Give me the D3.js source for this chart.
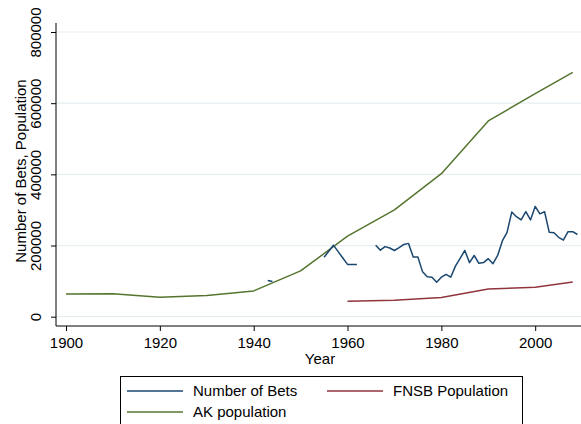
<!DOCTYPE html>
<html>
<head>
<meta charset="utf-8">
<script src="https://cdn.jsdelivr.net/npm/d3@7"></script>
<style>
  body { margin: 0; background: #fff; }
  text { font-family: "Liberation Sans", Arial, Helvetica, sans-serif; fill: #000; }
</style>
</head>
<body>
<script>
// Number of Bets by year (null = missing year, line breaks there)
const betYears = [1943, 1944, 1945,
    1955, 1956, 1957, 1958, 1959, 1960, 1961, 1962, 1963,
    1966, 1967, 1968, 1969, 1970, 1971, 1972, 1973, 1974, 1975,
    1976, 1977, 1978, 1979, 1980, 1981, 1982, 1983, 1984, 1985,
    1986, 1987, 1988, 1989, 1990, 1991, 1992, 1993, 1994, 1995,
    1996, 1997, 1998, 1999, 2000, 2001, 2002, 2003, 2004, 2005,
    2006, 2007, 2008, 2009];
const betValues = [102000, 99000, null,
    167000, 184000, 201000, 183000, 165000, 147000, 147000, 147000, null,
    201000, 187000, 197000, 193000, 186000, 194000, 203000, 206000, 168000, 168000,
    126000, 112000, 111000, 97000, 111000, 119000, 111000, 142000, 164000, 186000,
    152000, 172000, 150000, 152000, 163000, 149000, 172000, 213000, 237000, 294000,
    281000, 272000, 295000, 272000, 310000, 289000, 295000, 237000, 236000, 223000,
    215000, 239000, 239000, 231000];

// FNSB population
const fnsbYears = [1960, 1970, 1980, 1990, 2000, 2008];
const fnsbValues = [43400, 45900, 54000, 77700, 82800, 97500];

// AK population
const akYears = [1900, 1910, 1920, 1930, 1940, 1950, 1960, 1970, 1980, 1990, 2000, 2008];
const akValues = [63600, 64400, 55000, 59300, 72500, 128600, 226200, 300400, 401900, 550000, 626900, 686300];

const xTicks = [1900, 1920, 1940, 1960, 1980, 2000];
const yTicks = [0, 200000, 400000, 600000, 800000];

const legendItems = [
    { label: 'Number of Bets', color: '#1a476f' },
    { label: 'FNSB Population', color: '#90353b' },
    { label: 'AK population', color: '#55752f' }
];

const width = 581, height = 424;
const plot = { left: 56, right: 581, top: 23, bottom: 326 };

const svg = d3.select('body')
    .append('svg')
    .attr('width', width)
    .attr('height', height);

const x = d3.scaleLinear().domain([1900, 2000]).range([66, 535.2]);
const y = d3.scaleLinear().domain([0, 800000]).range([316.7, 32]);

// Grid lines
svg.append('g')
    .selectAll('line')
    .data(yTicks)
    .enter()
    .append('line')
    .attr('x1', plot.left)
    .attr('x2', plot.right)
    .attr('y1', d => y(d))
    .attr('y2', d => y(d))
    .attr('stroke', '#e6eef1')
    .attr('stroke-width', 1.2);

// Y axis
const yAxis = svg.append('g')
    .attr('transform', `translate(${plot.left},0)`)
    .call(d3.axisLeft(y).tickValues(yTicks).tickSize(5).tickFormat(d3.format('d')));
yAxis.select('.domain').remove();
yAxis.append('line')
    .attr('y1', plot.top).attr('y2', plot.bottom)
    .attr('stroke', '#000');
yAxis.selectAll('.tick line').attr('stroke', '#000');
yAxis.selectAll('.tick text')
    .attr('x', null).attr('dy', null)
    .attr('transform', 'translate(-15.5,0) rotate(-90)')
    .attr('text-anchor', 'middle')
    .style('font-size', '15px');

// X axis
const xAxis = svg.append('g')
    .attr('transform', `translate(0,${plot.bottom})`)
    .call(d3.axisBottom(x).tickValues(xTicks).tickSize(5).tickFormat(d3.format('d')));
xAxis.select('.domain').remove();
xAxis.append('line')
    .attr('x1', plot.left).attr('x2', plot.right)
    .attr('stroke', '#000');
xAxis.selectAll('.tick line').attr('stroke', '#000');
xAxis.selectAll('.tick text')
    .attr('y', 22).attr('dy', null)
    .style('font-size', '15px');

// Axis titles
svg.append('text')
    .attr('transform', 'translate(320,364)')
    .attr('text-anchor', 'middle')
    .style('font-size', '15px')
    .text('Year');

svg.append('text')
    .attr('transform', 'translate(25.5,171) rotate(-90)')
    .attr('text-anchor', 'middle')
    .style('font-size', '15px')
    .text('Number of Bets, Population');

// Series
const line = d3.line()
    .defined(d => d[1] != null)
    .x(d => x(d[0]))
    .y(d => y(d[1]));

const series = [
    { years: akYears, values: akValues, color: legendItems[2].color },
    { years: fnsbYears, values: fnsbValues, color: legendItems[1].color },
    { years: betYears, values: betValues, color: legendItems[0].color }
];

svg.append('g')
    .selectAll('path')
    .data(series)
    .enter()
    .append('path')
    .attr('fill', 'none')
    .attr('stroke', d => d.color)
    .attr('stroke-width', 1.5)
    .attr('stroke-linejoin', 'round')
    .attr('d', d => line(d.years.map((yr, i) => [yr, d.values[i]])));

// Legend
const legend = svg.append('g').attr('id', 'legend');
legend.append('rect')
    .attr('x', 120.5).attr('y', 376.5)
    .attr('width', 402).attr('height', 60)
    .attr('fill', '#fff')
    .attr('stroke', '#000');

const legendPos = [[127, 391], [327, 391], [127, 412]];
const items = legend.selectAll('.item')
    .data(legendItems)
    .enter()
    .append('g')
    .attr('transform', (d, i) => `translate(${legendPos[i][0]},${legendPos[i][1]})`);
items.append('line')
    .attr('x1', 0).attr('x2', 56)
    .attr('stroke', d => d.color)
    .attr('stroke-width', 1.3);
items.append('text')
    .attr('x', 66).attr('y', 5.3)
    .style('font-size', '15px')
    .text(d => d.label);
</script>
</body>
</html>
